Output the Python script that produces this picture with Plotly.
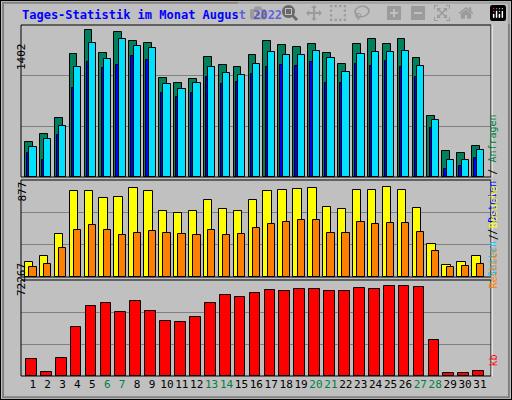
import plotly.graph_objects as go

days = list(range(1, 32))
weekend = [6, 7, 13, 14, 20, 21, 27, 28]

# Anfragen / Dateien / Seiten
hits = [326, 400, 547, 1138, 1359, 1147, 1341, 1258, 1239, 916, 870, 907, 1110, 1036, 1018, 1129,
        1258, 1221, 1202, 1230, 1147, 1045, 1230, 1276, 1230, 1276, 1101, 566, 243, 224, 289]
files = [280, 354, 474, 1018, 1239, 1092, 1276, 1212, 1193, 861, 815, 870, 1018, 962, 944, 1045,
         1156, 1129, 1129, 1165, 1101, 972, 1138, 1156, 1156, 1165, 1027, 529, 160, 160, 252]
pages = [224, 160, 390, 824, 1064, 1009, 1036, 1119, 1082, 778, 741, 778, 926, 861, 879, 953,
         1018, 1036, 1027, 1064, 870, 870, 1045, 1027, 1073, 1018, 926, 455, 77, 105, 178]
# Besuche / Rechner
visits = [134, 187, 389, 775, 775, 713, 722, 801, 775, 599, 582, 599, 696, 617, 599, 696,
          775, 783, 792, 801, 634, 617, 783, 783, 810, 783, 626, 301, 108, 134, 187]
sites = [91, 117, 266, 424, 468, 424, 380, 398, 415, 398, 389, 380, 424, 380, 389, 441,
         476, 494, 512, 512, 398, 398, 494, 476, 485, 485, 406, 231, 91, 99, 117]
# kb
kbytes = [12825, 3206, 13565, 37240, 52779, 54998, 48340, 56478, 49080, 41681, 40941, 44640,
          54998, 60918, 59438, 62398, 64617, 63877, 65357, 65357, 63877, 63877, 66097, 65357,
          67577, 67577, 66837, 26883, 2466, 2466, 3946]

max1, max2, max3 = 1402, 877, 72267
font = "DejaVu Sans Mono"
outline = dict(color="black", width=1)

fig = go.Figure()
fig.add_bar(x=days, y=hits, offset=-0.52, width=0.52, marker=dict(color="#00805C", line=outline), yaxis="y")
fig.add_bar(x=days, y=pages, offset=-0.38, width=0.16, marker=dict(color="#0000FF", line=outline), yaxis="y")
fig.add_bar(x=days, y=files, offset=-0.23, width=0.49, marker=dict(color="#00E0FF", line=outline), yaxis="y")
fig.add_bar(x=days, y=visits, offset=-0.52, width=0.56, marker=dict(color="#FFFF00", line=outline), yaxis="y2", xaxis="x2")
fig.add_bar(x=days, y=sites, offset=-0.23, width=0.49, marker=dict(color="#FF8000", line=outline), yaxis="y2", xaxis="x2")
fig.add_bar(x=days, y=kbytes, offset=-0.45, width=0.72, marker=dict(color="#FF0000", line=outline), yaxis="y3", xaxis="x3")

xr = [0.215, 31.74]
xdom = [21 / 512, 491 / 512]
ticktext = [f'<span style="color:#008040">{d}</span>' if d in weekend else str(d) for d in days]


def yax(top, dom):
    return dict(domain=dom, range=[0, top], tickvals=[top / 3, top * 2 / 3], showticklabels=False,
                showgrid=True, gridcolor="#808080", gridwidth=1, zeroline=False, fixedrange=True)


fig.update_layout(
    width=512, height=400, margin=dict(l=0, r=0, t=0, b=0),
    paper_bgcolor="#C0C0C0", plot_bgcolor="#C0C0C0",
    barmode="overlay", showlegend=False, bargap=0,
    font=dict(family=font, size=11, color="black"),
    xaxis=dict(domain=xdom, range=xr, showticklabels=False, anchor="y"),
    xaxis2=dict(domain=xdom, range=xr, showticklabels=False, anchor="y2"),
    xaxis3=dict(domain=xdom, range=xr, tickvals=days, ticktext=ticktext, anchor="y3",
                ticks="", tickangle=0, tickfont=dict(family=font, size=11)),
    yaxis=yax(max1, [1 - 177 / 400, 1 - 25 / 400]),
    yaxis2=dict(yax(max2, [1 - 277 / 400, 1 - 180 / 400]), anchor="x2"),
    yaxis3=dict(yax(max3, [1 - 376 / 400, 1 - 280 / 400]), anchor="x3"),
)

# panel frames
for y0, y1 in [(25, 177), (180, 277), (280, 376)]:
    fig.add_shape(type="rect", xref="paper", yref="paper", x0=xdom[0], x1=xdom[1],
                  y0=1 - y1 / 400, y1=1 - y0 / 400, line=dict(color="black", width=1))
    fig.add_shape(type="line", xref="paper", yref="paper", x0=xdom[1] + 0.002, x1=xdom[1] + 0.002,
                  y0=1 - y1 / 400, y1=1 - y0 / 400, line=dict(color="white", width=1))
fig.add_shape(type="rect", xref="paper", yref="paper", x0=0, x1=1, y0=0, y1=1,
              line=dict(color="black", width=2))
fig.add_shape(type="rect", xref="paper", yref="paper", x0=0.006, x1=0.994, y0=0.007, y1=0.993,
              line=dict(color="#808080", width=2))

fig.add_annotation(text="<b>Tages-Statistik im Monat August 2022</b>", x=20 / 512, y=1 - 15 / 400,
                   xref="paper", yref="paper", xanchor="left", yanchor="middle", showarrow=False,
                   font=dict(family=font, size=12, color="#0000FF"))

for txt, ypx in [(str(max1), 41), (str(max2), 192), (str(max3), 298)]:
    fig.add_annotation(text=txt, x=13 / 512, y=1 - ypx / 400, xref="paper", yref="paper",
                       textangle=-90, showarrow=False, font=dict(family=font, size=11))

right = [
    ('<span style="color:#00C0FF">Seiten</span> / <span style="color:#0000FF">Dateien</span> / '
     '<span style="color:#008040">Anfragen</span>', 112),
    ('<span style="color:#FF8000">Rechner</span> / <span style="color:#FFFF00">Besuche</span>', 238),
    ('<span style="color:#FF0000">kb</span>', 369),
]
for txt, ypx in right:
    fig.add_annotation(text=txt, x=500 / 512, y=1 - ypx / 400, xref="paper", yref="paper",
                       textangle=-90, showarrow=False, font=dict(family=font, size=10))

fig.write_html("out.html", post_script="document.body.style.margin='0';document.body.style.overflow='hidden';")
